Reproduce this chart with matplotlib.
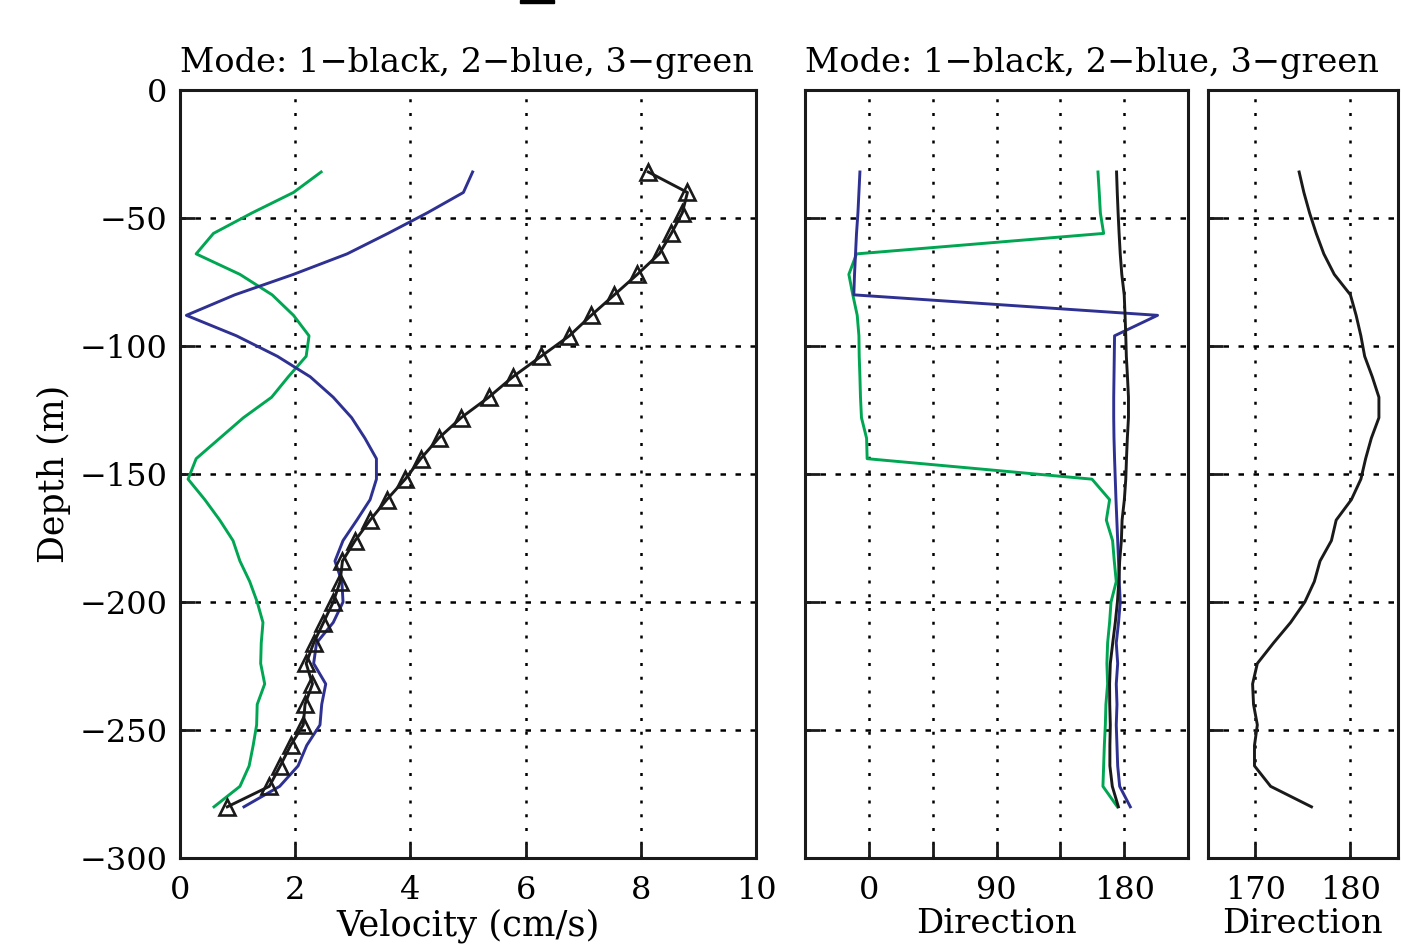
import numpy as np
import matplotlib.pyplot as plt
from matplotlib.patches import Rectangle

plt.rcParams['font.family'] = 'DejaVu Serif'
plt.rcParams['font.size'] = 23

# depth of each bin (m)
depth = [-32, -40, -48, -56, -64, -72, -80, -88, -96, -104, -112, -120,
         -128, -136, -144, -152, -160, -168, -176, -184, -192, -200, -208,
         -216, -224, -232, -240, -248, -256, -264, -272, -280]

# velocity (cm/s) per mode
vel_m1 = [8.13, 8.81, 8.72, 8.53, 8.32, 7.94, 7.54, 7.14, 6.76, 6.27, 5.78,
          5.36, 4.88, 4.49, 4.18, 3.91, 3.59, 3.30, 3.04, 2.82, 2.78, 2.66,
          2.49, 2.32, 2.19, 2.30, 2.17, 2.14, 1.92, 1.74, 1.55, 0.82]
vel_m2 = [5.08, 4.92, 4.29, 3.61, 2.90, 1.97, 0.95, 0.11, 0.98, 1.69, 2.26,
          2.66, 2.98, 3.21, 3.41, 3.41, 3.30, 3.07, 2.83, 2.69, 2.81, 2.83,
          2.66, 2.37, 2.32, 2.53, 2.46, 2.43, 2.20, 2.05, 1.73, 1.11]
vel_m3 = [2.45, 1.97, 1.25, 0.58, 0.28, 1.04, 1.60, 1.97, 2.24, 2.19, 1.88,
          1.59, 1.10, 0.69, 0.28, 0.14, 0.43, 0.69, 0.92, 1.04, 1.21, 1.34,
          1.44, 1.41, 1.40, 1.47, 1.34, 1.33, 1.27, 1.20, 1.04, 0.59]

# direction (deg) per mode
dir_m1 = [174.6, 175.1, 175.7, 176.4, 177.2, 178.3, 180.0, 180.6, 181.1,
          181.5, 182.3, 183.0, 183.0, 182.2, 181.6, 181.1, 180.1, 178.5,
          178.0, 176.8, 176.2, 175.2, 173.7, 171.9, 170.2, 169.7, 169.8,
          170.2, 169.9, 169.9, 171.6, 175.9]
dir_m2 = [-6.3, -7.0, -7.7, -8.7, -9.4, -10.1, -10.6, 203.5, 173.2, 173.0,
          172.8, 172.6, 172.6, 172.8, 173.2, 173.7, 174.2, 174.8, 175.4,
          176.0, 176.5, 177.2, 176.0, 174.4, 175.4, 174.4, 174.9, 174.4,
          174.9, 175.4, 176.8, 184.3]
dir_m3 = [161.5, 162.4, 163.2, 165.5, -8.7, -14.1, -11.3, -8.2, -7.0, -6.8,
          -6.3, -5.9, -5.2, -1.6, -1.2, 157.3, 169.7, 167.4, 171.8, 173.0,
          174.4, 170.7, 169.7, 168.3, 167.8, 168.3, 167.1, 166.7, 166.0,
          165.5, 165.0, 175.2]

title_txt = 'Mode: 1\u2212black, 2\u2212blue, 3\u2212green'

c1 = '#1a1a1a'
c2 = '#2e3192'
c3 = '#00a651'
lw = 2.1

fig = plt.figure(figsize=(14.01, 9.46), dpi=100)
ax1 = fig.add_axes([0.1285, 0.0930, 0.4111, 0.8118])
ax2 = fig.add_axes([0.5746, 0.0930, 0.2734, 0.8118])
ax3 = fig.add_axes([0.8622, 0.0930, 0.1356, 0.8118])

def style(ax):
    for s in ax.spines.values():
        s.set_linewidth(2.2)
        s.set_color(c1)
    ax.tick_params(direction='in', length=11, width=2, colors=c1,
                   pad=12, labelcolor='black')
    ax.tick_params(axis='y', pad=9)
    ax.set_ylim(-300, 0)
    ax.set_yticks([-300, -250, -200, -150, -100, -50, 0])
    ax.grid(True, axis='x', color='black', linestyle=(0, (1.2, 4.3)), linewidth=1.8)
    ax.grid(True, axis='y', color='black', linestyle=(0, (2.2, 3.8)), linewidth=1.8)
    ax.set_axisbelow(True)

# velocity panel
ax1.plot(vel_m3, depth, color=c3, lw=lw)
ax1.plot(vel_m2, depth, color=c2, lw=lw)
ax1.plot(vel_m1, depth, color=c1, lw=lw, marker='^', markersize=11.5,
         markerfacecolor='none', markeredgewidth=1.9, markeredgecolor=c1)
style(ax1)
ax1.set_xlim(0, 10)
ax1.set_xticks([0, 2, 4, 6, 8, 10])
ax1.set_ylabel('Depth (m)', fontsize=25, labelpad=6)
ax1.set_xlabel('Velocity (cm/s)', fontsize=25.5, labelpad=2)
ax1.set_title(title_txt, fontsize=24.2, pad=13, loc='left')

# direction panel
ax2.plot(dir_m3, depth, color=c3, lw=lw)
ax2.plot(dir_m2, depth, color=c2, lw=lw)
ax2.plot(dir_m1, depth, color=c1, lw=lw)
style(ax2)
ax2.set_xlim(-45, 225)
ax2.set_xticks([0, 45, 90, 135, 180])
ax2.set_xticklabels(['0', '', '90', '', '180'])
ax2.set_yticklabels([])
ax2.set_xlabel('Direction', fontsize=24.5, labelpad=2)
ax2.set_title(title_txt, fontsize=24.2, pad=13, loc='left')

# mode 1 direction zoom
ax3.plot(dir_m1, depth, color=c1, lw=lw)
style(ax3)
ax3.set_xlim(165, 185)
ax3.set_xticks([170, 180])
ax3.set_yticklabels([])
ax3.set_xlabel('Direction', fontsize=24.5, labelpad=2)

fig.patches.append(Rectangle((520 / 1401, 1 - 3 / 946), 34 / 1401, 3 / 946,
                             transform=fig.transFigure, color='black'))

fig.savefig('out.png', dpi=100)
